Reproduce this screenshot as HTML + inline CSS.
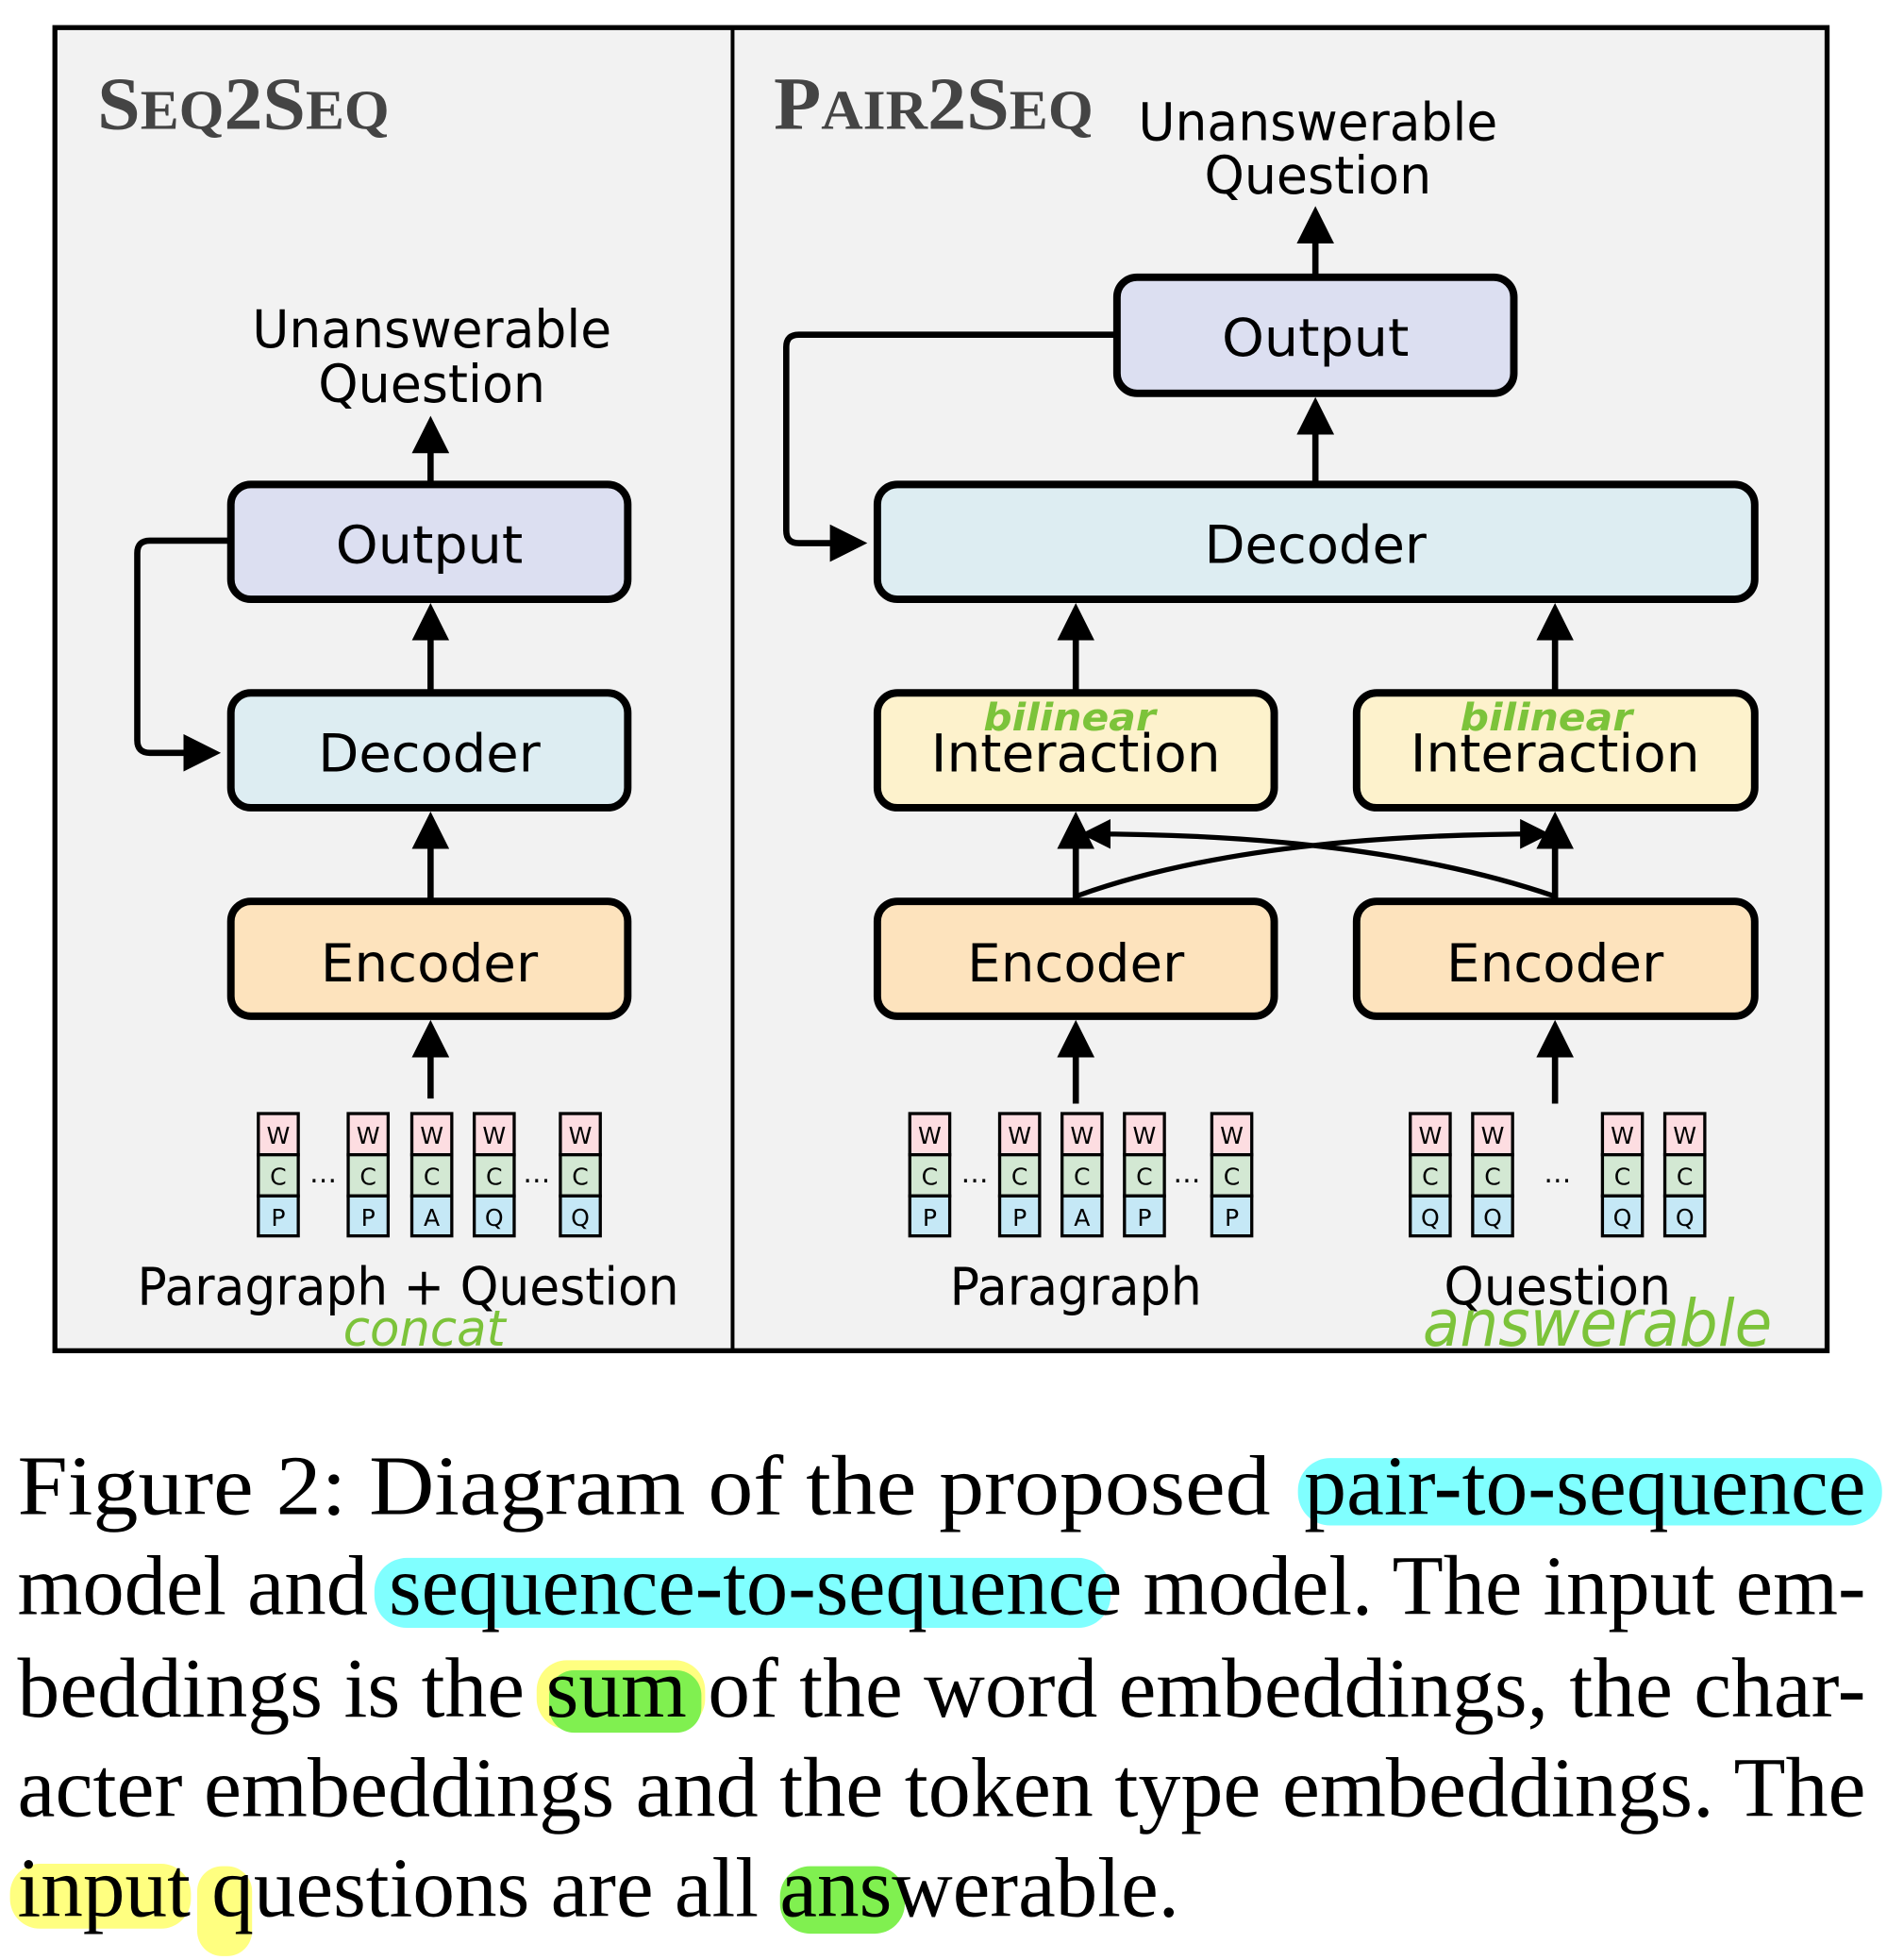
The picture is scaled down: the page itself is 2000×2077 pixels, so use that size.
<!DOCTYPE html>
<html><head><meta charset="utf-8"><style>
html,body{margin:0;padding:0;background:#fff;}
svg{display:block;}
.b{font-family:"DejaVu Sans","Liberation Sans",sans-serif;}
.s{font-family:"Liberation Serif",serif;}
.g{font-family:"Comic Sans MS","DejaVu Sans",cursive;fill:#7cc33a;font-style:italic;}
</style></head><body>
<svg width="2000" height="2077" viewBox="0 0 1512 1570" xmlns="http://www.w3.org/2000/svg">
<defs>
<marker id="a" markerWidth="6" markerHeight="6" refX="5" refY="3" orient="auto" markerUnits="strokeWidth"><path d="M0,0 L6,3 L0,6 z" fill="#000"/></marker>
</defs>
<rect x="44" y="22" width="1420" height="1060" fill="#f2f2f2" stroke="#000" stroke-width="4"/>
<line x1="587" y1="22" x2="587" y2="1082" stroke="#000" stroke-width="3"/>
<text x="78" y="103" class="s" font-size="60" font-weight="bold" fill="#444" textLength="234" lengthAdjust="spacingAndGlyphs">S<tspan font-size="45">EQ</tspan>2S<tspan font-size="45">EQ</tspan></text>
<text x="620" y="103" class="s" font-size="60" font-weight="bold" fill="#444" textLength="256" lengthAdjust="spacingAndGlyphs">P<tspan font-size="45">AIR</tspan>2S<tspan font-size="45">EQ</tspan></text>

<g stroke="#000" stroke-width="6">
<rect x="185" y="388" width="318" height="92" rx="16" fill="#dcdff1"/>
<rect x="185" y="555" width="318" height="92" rx="16" fill="#ddedf2"/>
<rect x="185" y="722" width="318" height="92" rx="16" fill="#fde3bd"/>
<rect x="895" y="222" width="318" height="93" rx="16" fill="#dcdff1"/>
<rect x="703" y="388" width="703" height="92" rx="16" fill="#ddedf2"/>
<rect x="703" y="555" width="318" height="92" rx="16" fill="#fdf2cc"/>
<rect x="1087" y="555" width="319" height="92" rx="16" fill="#fdf2cc"/>
<rect x="703" y="722" width="318" height="92" rx="16" fill="#fde3bd"/>
<rect x="1087" y="722" width="319" height="92" rx="16" fill="#fde3bd"/>
</g>
<g stroke="#000" stroke-width="5" fill="none" marker-end="url(#a)">
<line x1="345" y1="880" x2="345" y2="822"/>
<line x1="345" y1="720" x2="345" y2="655"/>
<line x1="345" y1="553" x2="345" y2="488"/>
<line x1="345" y1="386" x2="345" y2="338"/>
<path d="M183,433 H120 Q110,433 110,443 V593 Q110,603 120,603 H172"/>
<line x1="862" y1="884" x2="862" y2="822"/>
<line x1="1246" y1="884" x2="1246" y2="822"/>
<line x1="862" y1="720" x2="862" y2="655"/>
<line x1="1246" y1="720" x2="1246" y2="655"/>
<line x1="862" y1="553" x2="862" y2="488"/>
<line x1="1246" y1="553" x2="1246" y2="488"/>
<line x1="1054" y1="386" x2="1054" y2="323"/>
<line x1="1054" y1="220" x2="1054" y2="170"/>
<path d="M893,268 H640 Q630,268 630,278 V425 Q630,435 640,435 H690"/>
<path d="M862,718 Q1000,668 1238,668" stroke-width="4"/>
<path d="M1246,718 Q1100,668 870,668" stroke-width="4"/>
</g>
<g class="b" font-size="42" text-anchor="middle" fill="#000">
<text x="344" y="451" textLength="150" lengthAdjust="spacingAndGlyphs">Output</text>
<text x="344" y="618" textLength="178" lengthAdjust="spacingAndGlyphs">Decoder</text>
<text x="344" y="786" textLength="174" lengthAdjust="spacingAndGlyphs">Encoder</text>
<text x="346" y="278" textLength="288" lengthAdjust="spacingAndGlyphs">Unanswerable</text>
<text x="346" y="322" textLength="182" lengthAdjust="spacingAndGlyphs">Question</text>
<text x="327" y="1045" textLength="434" lengthAdjust="spacingAndGlyphs">Paragraph + Question</text>
<text x="1054" y="285" textLength="150" lengthAdjust="spacingAndGlyphs">Output</text>
<text x="1054" y="451" textLength="178" lengthAdjust="spacingAndGlyphs">Decoder</text>
<text x="862" y="618" textLength="232" lengthAdjust="spacingAndGlyphs">Interaction</text>
<text x="1246" y="618" textLength="232" lengthAdjust="spacingAndGlyphs">Interaction</text>
<text x="862" y="786" textLength="174" lengthAdjust="spacingAndGlyphs">Encoder</text>
<text x="1246" y="786" textLength="174" lengthAdjust="spacingAndGlyphs">Encoder</text>
<text x="1056" y="112" textLength="288" lengthAdjust="spacingAndGlyphs">Unanswerable</text>
<text x="1056" y="155" textLength="182" lengthAdjust="spacingAndGlyphs">Question</text>
<text x="862" y="1045" textLength="202" lengthAdjust="spacingAndGlyphs">Paragraph</text>
<text x="1248" y="1045" textLength="182" lengthAdjust="spacingAndGlyphs">Question</text>
</g>
<g stroke="#000" stroke-width="2.5" class="b" font-size="19" text-anchor="middle">
<g transform="translate(207,892)"><rect width="32" height="33" fill="#fddde1"/><rect y="33" width="32" height="33" fill="#d3e8d3"/><rect y="66" width="32" height="32" fill="#c5e8f6"/><text x="16" y="24" stroke="none">W</text><text x="16" y="57" stroke="none">C</text><text x="16" y="90" stroke="none">P</text></g>
<g transform="translate(279,892)"><rect width="32" height="33" fill="#fddde1"/><rect y="33" width="32" height="33" fill="#d3e8d3"/><rect y="66" width="32" height="32" fill="#c5e8f6"/><text x="16" y="24" stroke="none">W</text><text x="16" y="57" stroke="none">C</text><text x="16" y="90" stroke="none">P</text></g>
<g transform="translate(330,892)"><rect width="32" height="33" fill="#fddde1"/><rect y="33" width="32" height="33" fill="#d3e8d3"/><rect y="66" width="32" height="32" fill="#c5e8f6"/><text x="16" y="24" stroke="none">W</text><text x="16" y="57" stroke="none">C</text><text x="16" y="90" stroke="none">A</text></g>
<g transform="translate(380,892)"><rect width="32" height="33" fill="#fddde1"/><rect y="33" width="32" height="33" fill="#d3e8d3"/><rect y="66" width="32" height="32" fill="#c5e8f6"/><text x="16" y="24" stroke="none">W</text><text x="16" y="57" stroke="none">C</text><text x="16" y="90" stroke="none">Q</text></g>
<g transform="translate(449,892)"><rect width="32" height="33" fill="#fddde1"/><rect y="33" width="32" height="33" fill="#d3e8d3"/><rect y="66" width="32" height="32" fill="#c5e8f6"/><text x="16" y="24" stroke="none">W</text><text x="16" y="57" stroke="none">C</text><text x="16" y="90" stroke="none">Q</text></g>
<g transform="translate(729,892)"><rect width="32" height="33" fill="#fddde1"/><rect y="33" width="32" height="33" fill="#d3e8d3"/><rect y="66" width="32" height="32" fill="#c5e8f6"/><text x="16" y="24" stroke="none">W</text><text x="16" y="57" stroke="none">C</text><text x="16" y="90" stroke="none">P</text></g>
<g transform="translate(801,892)"><rect width="32" height="33" fill="#fddde1"/><rect y="33" width="32" height="33" fill="#d3e8d3"/><rect y="66" width="32" height="32" fill="#c5e8f6"/><text x="16" y="24" stroke="none">W</text><text x="16" y="57" stroke="none">C</text><text x="16" y="90" stroke="none">P</text></g>
<g transform="translate(851,892)"><rect width="32" height="33" fill="#fddde1"/><rect y="33" width="32" height="33" fill="#d3e8d3"/><rect y="66" width="32" height="32" fill="#c5e8f6"/><text x="16" y="24" stroke="none">W</text><text x="16" y="57" stroke="none">C</text><text x="16" y="90" stroke="none">A</text></g>
<g transform="translate(901,892)"><rect width="32" height="33" fill="#fddde1"/><rect y="33" width="32" height="33" fill="#d3e8d3"/><rect y="66" width="32" height="32" fill="#c5e8f6"/><text x="16" y="24" stroke="none">W</text><text x="16" y="57" stroke="none">C</text><text x="16" y="90" stroke="none">P</text></g>
<g transform="translate(971,892)"><rect width="32" height="33" fill="#fddde1"/><rect y="33" width="32" height="33" fill="#d3e8d3"/><rect y="66" width="32" height="32" fill="#c5e8f6"/><text x="16" y="24" stroke="none">W</text><text x="16" y="57" stroke="none">C</text><text x="16" y="90" stroke="none">P</text></g>
<g transform="translate(1130,892)"><rect width="32" height="33" fill="#fddde1"/><rect y="33" width="32" height="33" fill="#d3e8d3"/><rect y="66" width="32" height="32" fill="#c5e8f6"/><text x="16" y="24" stroke="none">W</text><text x="16" y="57" stroke="none">C</text><text x="16" y="90" stroke="none">Q</text></g>
<g transform="translate(1180,892)"><rect width="32" height="33" fill="#fddde1"/><rect y="33" width="32" height="33" fill="#d3e8d3"/><rect y="66" width="32" height="32" fill="#c5e8f6"/><text x="16" y="24" stroke="none">W</text><text x="16" y="57" stroke="none">C</text><text x="16" y="90" stroke="none">Q</text></g>
<g transform="translate(1284,892)"><rect width="32" height="33" fill="#fddde1"/><rect y="33" width="32" height="33" fill="#d3e8d3"/><rect y="66" width="32" height="32" fill="#c5e8f6"/><text x="16" y="24" stroke="none">W</text><text x="16" y="57" stroke="none">C</text><text x="16" y="90" stroke="none">Q</text></g>
<g transform="translate(1334,892)"><rect width="32" height="33" fill="#fddde1"/><rect y="33" width="32" height="33" fill="#d3e8d3"/><rect y="66" width="32" height="32" fill="#c5e8f6"/><text x="16" y="24" stroke="none">W</text><text x="16" y="57" stroke="none">C</text><text x="16" y="90" stroke="none">Q</text></g>
</g>
<g class="b" font-size="22" text-anchor="middle">
<text x="259" y="947">…</text><text x="430" y="947">…</text>
<text x="781" y="947">…</text><text x="951" y="947">…</text><text x="1248" y="947">…</text>
</g>
<text x="275" y="1078" class="g" font-size="40" textLength="130" lengthAdjust="spacingAndGlyphs">concat</text>
<text x="788" y="585" class="g" font-size="30" font-weight="bold" textLength="138" lengthAdjust="spacingAndGlyphs">bilinear</text>
<text x="1170" y="585" class="g" font-size="30" font-weight="bold" textLength="138" lengthAdjust="spacingAndGlyphs">bilinear</text>
<text x="1140" y="1078" class="g" font-size="52" textLength="280" lengthAdjust="spacingAndGlyphs">answerable</text>

<rect x="1040" y="1168" width="468" height="54" rx="26" fill="#80ffff"/>
<rect x="300" y="1248" width="590" height="56" rx="26" fill="#80ffff"/>
<rect x="430" y="1330" width="135" height="55" rx="24" fill="#ffff80"/>
<rect x="440" y="1338" width="122" height="50" rx="20" fill="#80f050"/>
<rect x="8" y="1493" width="145" height="52" rx="24" fill="#ffff80"/>
<rect x="158" y="1495" width="44" height="72" rx="20" fill="#ffff80"/>
<rect x="625" y="1495" width="100" height="54" rx="24" fill="#80f050"/>
<g class="s" font-size="68" fill="#000">
<text x="14" y="1213" textLength="1004" lengthAdjust="spacingAndGlyphs">Figure 2:  Diagram of the proposed</text>
<text x="1045" y="1213" textLength="450" lengthAdjust="spacingAndGlyphs">pair-to-sequence</text>
<text x="14" y="1293" textLength="1481" lengthAdjust="spacingAndGlyphs">model and sequence-to-sequence model. The input em-</text>
<text x="14" y="1375" textLength="1481" lengthAdjust="spacingAndGlyphs">beddings is the sum of the word embeddings, the char-</text>
<text x="14" y="1455" textLength="1481" lengthAdjust="spacingAndGlyphs">acter embeddings and the token type embeddings. The</text>
<text x="14" y="1535" textLength="931" lengthAdjust="spacingAndGlyphs">input questions are all answerable.</text>
</g>
</svg>
</body></html>
